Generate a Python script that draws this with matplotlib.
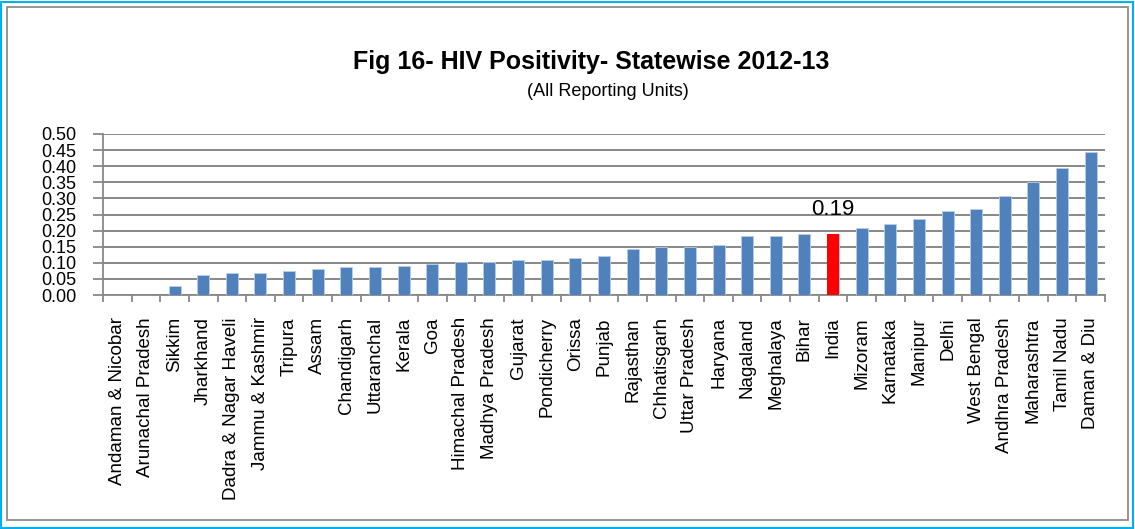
import matplotlib.pyplot as plt
from matplotlib.patches import Rectangle

states = ["Andaman & Nicobar", "Arunachal Pradesh", "Sikkim", "Jharkhand",
          "Dadra & Nagar Haveli", "Jammu & Kashmir", "Tripura", "Assam",
          "Chandigarh", "Uttaranchal", "Kerala", "Goa", "Himachal Pradesh",
          "Madhya Pradesh", "Gujarat", "Pondicherry", "Orissa", "Punjab",
          "Rajasthan", "Chhatisgarh", "Uttar Pradesh", "Haryana", "Nagaland",
          "Meghalaya", "Bihar", "India", "Mizoram", "Karnataka", "Manipur",
          "Delhi", "West Bengal", "Andhra Pradesh", "Maharashtra",
          "Tamil Nadu", "Daman & Diu"]
positivity = [0.0, 0.0, 0.027, 0.062, 0.067, 0.067, 0.073, 0.080,
              0.086, 0.086, 0.091, 0.097, 0.102, 0.102, 0.109, 0.109,
              0.114, 0.120, 0.144, 0.150, 0.150, 0.155, 0.184, 0.184,
              0.189, 0.19, 0.208, 0.219, 0.236, 0.261, 0.266, 0.306,
              0.350, 0.395, 0.443]
yticks = [0.00, 0.05, 0.10, 0.15, 0.20, 0.25, 0.30, 0.35, 0.40, 0.45, 0.50]

plt.rcParams['font.family'] = ['Liberation Sans', 'DejaVu Sans']

fig = plt.figure(figsize=(11.35, 5.29), dpi=100)
# outer blue frame and grey chart frame
fig.patches.append(Rectangle((0.001, 0.002), 0.997, 0.995, transform=fig.transFigure,
                             fill=False, edgecolor="#00B0F0", linewidth=1.5))
fig.patches.append(Rectangle((7 / 1135, 9 / 529), 1121 / 1135, 513 / 529, transform=fig.transFigure,
                             fill=False, edgecolor="#8C8C8C", linewidth=1.3))

ax = fig.add_axes([103 / 1135, 1 - 295 / 529, 1002 / 1135, 161 / 529])
colors = ["#FF0000" if s == "India" else "#4F81BD" for s in states]
x = list(range(len(states)))
ax.bar(x, positivity, width=0.42, color=colors, edgecolor="#B9CDE5", linewidth=0.6, zorder=3)
ax.bar([states.index("India")], [0.19], width=0.42, color="#FF0000", zorder=4)

ax.set_xlim(-0.5, len(states) - 0.5)
ax.set_ylim(0, 0.5)
ax.set_yticks(yticks)
ax.set_yticklabels(["%.2f" % v for v in yticks], fontsize=13)
ax.yaxis.grid(True, color="#888888", linewidth=1.4, zorder=0)
ax.set_xticks(x)
ax.set_xticklabels(states, rotation=90, fontsize=13.5)
ax.set_xticks([i - 0.5 for i in range(len(states) + 1)], minor=True)
ax.tick_params(axis="x", which="major", length=0, pad=16)
ax.tick_params(axis="x", which="minor", length=5, color="#888888", width=1.3)
ax.tick_params(axis="y", length=7, color="#888888", width=1.3, pad=12)
for side in ["top", "right"]:
    ax.spines[side].set_visible(False)
ax.spines["left"].set_color("#888888")
ax.spines["bottom"].set_color("#888888")
ax.spines["left"].set_linewidth(1.3)
ax.spines["bottom"].set_linewidth(1.3)

i = states.index("India")
ax.annotate("0.19", (i, positivity[i]), xytext=(0, 10), textcoords="offset points",
            ha="center", va="bottom", fontsize=16)

fig.text(591 / 1135, 1 - 62 / 529, "Fig 16- HIV Positivity- Statewise 2012-13", ha="center", va="center",
         fontsize=18, fontweight="bold")
fig.text(608 / 1135, 1 - 92 / 529, "(All Reporting Units)", ha="center", va="center", fontsize=13)

fig.savefig("out.png", dpi=100)
